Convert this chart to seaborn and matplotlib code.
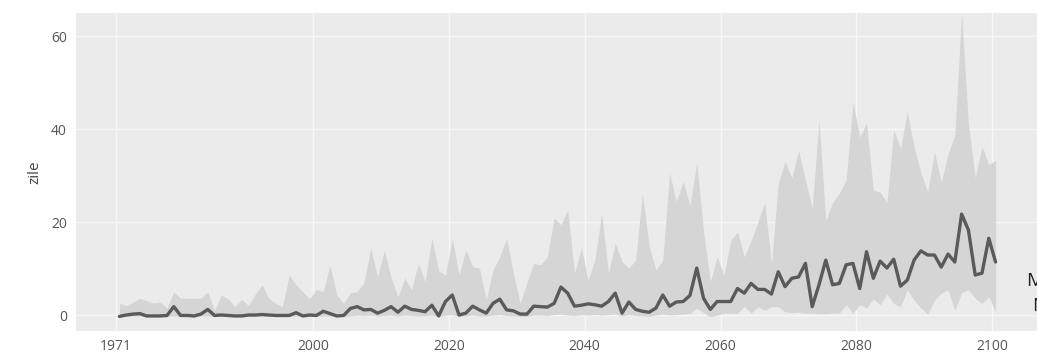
import numpy as np
import pandas as pd
import matplotlib
matplotlib.use("Agg")
import matplotlib.pyplot as plt
import seaborn as sns

years = list(range(1971, 2101))

mean_vals = [
    -0.3, 0.0, 0.2, 0.3, -0.2, -0.2, -0.2, -0.1, 1.8, -0.1,   # 1971-1980
    -0.1, -0.2, 0.2, 1.2, -0.1, 0.0, -0.1, -0.2, -0.2, 0.0,   # 1981-1990
    0.0, 0.1, 0.0, -0.1, -0.1, -0.1, 0.5, -0.2, 0.0, -0.1,    # 1991-2000
    0.8, 0.3, -0.2, -0.1, 1.4, 1.8, 1.1, 1.2, 0.4, 1.0,       # 2001-2010
    1.8, 0.6, 1.9, 1.2, 1.0, 0.7, 2.1, -0.2, 2.9, 4.3,        # 2011-2020
    0.0, 0.4, 1.9, 1.1, 0.4, 2.5, 3.4, 1.1, 0.9, 0.2,         # 2021-2030
    0.2, 1.9, 1.8, 1.7, 2.5, 6.0, 4.7, 1.9, 2.1, 2.4,         # 2031-2040
    2.2, 1.9, 2.9, 4.7, 0.4, 2.8, 1.2, 0.8, 0.6, 1.5,         # 2041-2050
    4.3, 1.9, 2.8, 2.9, 4.2, 10.1, 3.6, 1.2, 2.9, 2.9,        # 2051-2060
    2.9, 5.7, 4.7, 6.8, 5.5, 5.5, 4.5, 9.3, 6.1, 7.9,         # 2061-2070
    8.2, 11.1, 1.8, 6.5, 11.8, 6.5, 6.8, 10.8, 11.1, 5.7,     # 2071-2080
    13.6, 7.9, 11.6, 10.1, 12.0, 6.2, 7.5, 11.8, 13.8, 12.9,  # 2081-2090
    12.9, 10.3, 13.1, 11.4, 21.7, 18.3, 8.6, 9.0, 16.5, 11.4, # 2091-2100
]

upper_vals = [
    2.5, 2.0, 2.8, 3.6, 3.1, 2.6, 2.8, 1.5, 5.0, 3.6,         # 1971-1980
    3.6, 3.6, 3.6, 5.0, 1.0, 4.3, 3.5, 1.8, 3.3, 2.0,         # 1981-1990
    4.5, 6.5, 3.6, 2.5, 1.8, 8.6, 6.5, 5.0, 3.5, 5.5,         # 1991-2000
    5.0, 10.8, 4.3, 2.5, 4.8, 5.0, 7.0, 14.4, 8.2, 13.9,      # 2001-2010
    8.0, 3.9, 8.0, 5.4, 11.1, 7.2, 16.5, 9.5, 8.6, 16.5,      # 2011-2020
    8.6, 14.0, 10.4, 10.1, 3.2, 9.7, 12.5, 16.5, 9.0, 2.5,    # 2021-2030
    7.0, 11.1, 10.8, 12.5, 20.9, 19.4, 22.6, 9.0, 14.4, 7.5,  # 2031-2040
    11.8, 21.9, 9.0, 15.5, 11.5, 10.1, 11.8, 26.2, 14.7, 9.7, # 2041-2050
    11.8, 30.5, 24.4, 28.7, 23.6, 32.7, 18.0, 7.2, 12.5, 8.5, # 2051-2060
    16.0, 17.9, 12.5, 16.0, 20.0, 24.2, 11.0, 28.2, 33.0, 29.5,  # 2061-2070
    35.3, 29.0, 23.0, 41.8, 20.3, 24.1, 26.2, 29.0, 45.8, 38.2,  # 2071-2080
    41.3, 26.9, 26.4, 24.1, 39.8, 35.8, 43.7, 36.2, 30.6, 26.5,  # 2081-2090
    35.1, 28.5, 34.6, 38.7, 65.0, 41.0, 29.5, 36.2, 32.3, 33.3,  # 2091-2100
]

lower_vals = [
    -0.4, -0.3, -0.2, -0.2, -0.4, -0.4, -0.4, -0.3, -0.2, -0.3,  # 1971-1980
    -0.3, -0.4, -0.2, -0.2, -0.3, -0.3, -0.3, -0.4, -0.4, -0.3,  # 1981-1990
    -0.3, -0.2, -0.3, -0.3, -0.3, -0.3, -0.2, -0.4, -0.3, -0.3,  # 1991-2000
    -0.2, -0.2, -0.4, -0.3, -0.2, 0.0, -0.1, 0.0, -0.2, -0.1,    # 2001-2010
    0.0, -0.2, 0.0, -0.1, -0.2, -0.2, 0.0, -0.4, 0.0, 0.1,       # 2011-2020
    -0.3, -0.2, 0.0, -0.2, -0.2, 0.0, 0.1, -0.1, -0.2, -0.3,     # 2021-2030
    -0.3, 0.0, 0.0, -0.1, 0.1, 0.2, 0.0, -0.1, 0.1, 0.0,         # 2031-2040
    0.1, 0.0, 0.1, 0.2, -0.2, 0.1, -0.1, -0.2, -0.3, 0.0,        # 2041-2050
    0.2, 0.0, 0.1, 0.2, 0.3, 1.5, 0.5, -0.4, 0.0, 0.4,           # 2051-2060
    0.4, 0.3, 1.9, 0.4, 1.8, 1.0, 1.8, 1.8, 0.7, 0.5,            # 2061-2070
    0.6, 0.4, 0.4, 0.3, 0.3, 0.4, 0.4, 2.2, 0.4, 2.2,            # 2071-2080
    1.5, 3.5, 2.2, 4.5, 2.5, 1.8, 5.4, 3.2, 1.5, 0.2,            # 2081-2090
    3.2, 4.7, 5.4, 1.0, 4.8, 5.4, 3.6, 2.5, 3.9, 0.7,            # 2091-2100
]

x_tick_labels = ["1971", "2000", "2020", "2040", "2060", "2080", "2100"]
y_ticks = [0, 20, 40, 60]
y_label = "zile"
legend_letters = ["M", "N"]

df = pd.DataFrame({
    "year": np.array(years, dtype=float) + 0.5,   # mid-year position
    "mean": mean_vals,
    "lower": lower_vals,
    "upper": upper_vals,
})

sns.set_theme(style="darkgrid")
plt.rcParams["font.family"] = ["Open Sans", "DejaVu Sans"]

W, H = 1037, 356
fig = plt.figure(figsize=(W / 100, H / 100), dpi=100)
fig.patch.set_facecolor("white")

ax = fig.add_axes([76 / W, (H - 331) / H, (W - 76) / W, (331 - 13) / H])
ax.set_facecolor("#EBEBEB")

ax.fill_between(df["year"], df["lower"], df["upper"], color="#D5D5D5", linewidth=0, zorder=2)
sns.lineplot(data=df, x="year", y="mean", ax=ax, color="#5A5A5A", linewidth=2.4, zorder=3)

ax.set_xlim(1965.1, 2106.6)
ax.set_ylim(-3.44, 64.95)
ax.set_xticks([int(t) for t in x_tick_labels])
ax.set_xticklabels(x_tick_labels)
ax.set_yticks(y_ticks)
ax.set_yticklabels([str(t) for t in y_ticks])

ax.grid(True, color="#F7F7F7", linewidth=1.0)
ax.set_axisbelow(True)
for s in ax.spines.values():
    s.set_visible(False)

ax.tick_params(axis="both", which="major", length=4.5, width=0.8, color="#8A8A8A",
               labelsize=10, labelcolor="#555555", pad=2)
ax.tick_params(axis="x", pad=1)
ax.set_xlabel("")
ax.set_ylabel(y_label, fontsize=11, color="#444444", labelpad=6)

fig.text(1026 / W, (H - 281) / H, legend_letters[0], fontsize=14, color="#222222",
         ha="left", va="center")
fig.text(1032 / W, (H - 306) / H, legend_letters[1], fontsize=14, color="#222222",
         ha="left", va="center")

fig.savefig("out.png", dpi=100, facecolor="white")
